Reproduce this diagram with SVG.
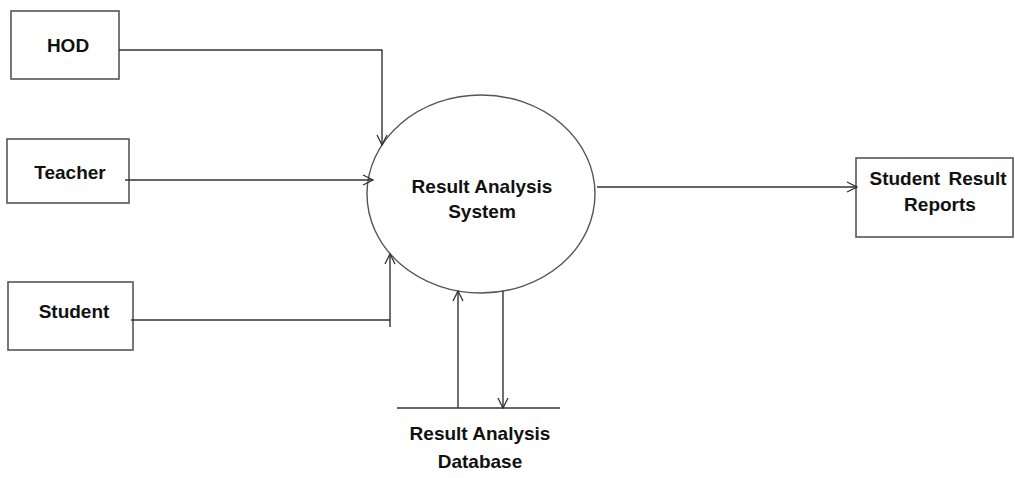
<svg xmlns="http://www.w3.org/2000/svg" width="1015" height="478" viewBox="0 0 1015 478">
  <style>
    .box { fill: #fff; stroke: #555; stroke-width: 1.6; }
    .flow { fill: none; stroke: #333; stroke-width: 1.4; }
    .lbl { font-family: "Liberation Sans", Arial, sans-serif; font-weight: bold; font-size: 19px; fill: #111; text-anchor: middle; }
  </style>
  <defs>
    <marker id="open" viewBox="0 0 12 12" refX="11" refY="6" markerWidth="12" markerHeight="12" markerUnits="userSpaceOnUse" orient="auto">
      <path d="M1,1 L11,6 L1,11" fill="none" stroke="#333" stroke-width="1.3"/>
    </marker>
  </defs>
  <rect width="1015" height="478" fill="#fff"/>

  <g id="hod">
    <rect class="box" x="11" y="11" width="108" height="68"/>
    <text class="lbl" x="68" y="52">HOD</text>
  </g>
  <g id="teacher">
    <rect class="box" x="7" y="139" width="122" height="64"/>
    <text class="lbl" x="70" y="179">Teacher</text>
  </g>
  <g id="student">
    <rect class="box" x="8" y="282" width="125" height="68"/>
    <text class="lbl" x="74" y="318">Student</text>
  </g>
  <g id="system">
    <ellipse cx="481" cy="194" rx="114" ry="99" fill="#fff" stroke="#555" stroke-width="1.4"/>
    <text class="lbl" x="482" y="193">Result Analysis</text>
    <text class="lbl" x="482" y="218">System</text>
  </g>
  <g id="reports">
    <rect class="box" x="856" y="158" width="157" height="79"/>
    <text class="lbl" x="938" y="185" word-spacing="3">Student Result</text>
    <text class="lbl" x="940" y="211">Reports</text>
  </g>
  <g id="database">
    <line x1="397" y1="408" x2="560" y2="408" stroke="#333" stroke-width="1.6"/>
    <text class="lbl" x="480" y="440">Result Analysis</text>
    <text class="lbl" x="480" y="468">Database</text>
  </g>

  <g id="connectors">
    <path class="flow" d="M119,50 H382 V145" marker-end="url(#open)"/>
    <path class="flow" d="M125,180 H373" marker-end="url(#open)"/>
    <path class="flow" d="M131,320 H390 M390,327 V254" marker-end="url(#open)"/>
    <path class="flow" d="M597,187 H857" marker-end="url(#open)"/>
    <path class="flow" d="M458,408 V291" marker-end="url(#open)"/>
    <path class="flow" d="M503,291 V408" marker-end="url(#open)"/>
  </g>
</svg>
